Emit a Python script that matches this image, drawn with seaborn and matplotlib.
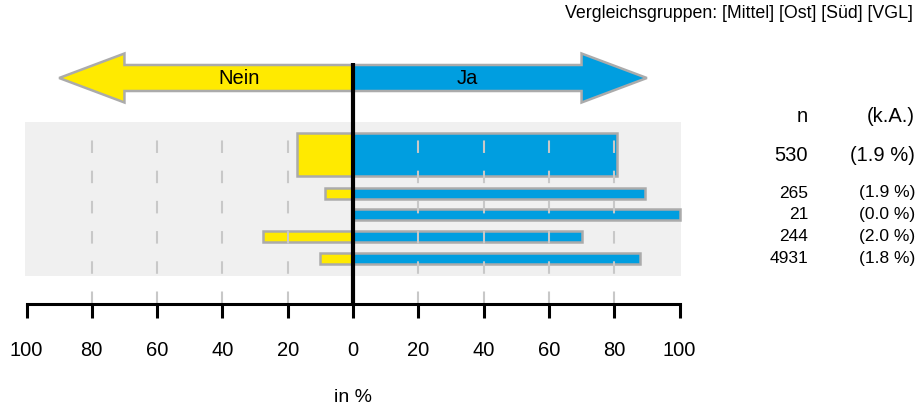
import matplotlib
matplotlib.use("Agg")
import matplotlib.pyplot as plt
from matplotlib.patches import Polygon, Rectangle
import numpy as np
import pandas as pd
import seaborn as sns

# values (percent)
groups = ["Gesamt", "Mittel", "Ost", "Süd", "VGL"]
nein = [17.0, 8.5, 0.0, 27.6, 10.2]
ja = [80.8, 89.5, 100.0, 70.0, 87.8]
n_count = [530, 265, 21, 244, 4931]
keine_angabe = [1.9, 1.9, 0.0, 2.0, 1.8]
tick_values = [-100, -80, -60, -40, -20, 0, 20, 40, 60, 80, 100]

YELLOW = "#FFEA00"
BLUE = "#009EE0"
EDGE = "#ABABAB"
GRID = "#C8C8C8"
BG = "#F0F0F0"

sns.set_theme(style="white")
plt.rcParams["font.family"] = ["Liberation Sans", "DejaVu Sans"]
plt.rcParams["text.color"] = "black"
plt.rcParams["xtick.color"] = "black"

W, H = 916, 407
X0, SCALE = 353.0, 3.265  # pixel of 0 %, pixels per percent


def px(x):
    """pixel column -> data x"""
    return (x - X0) / SCALE


fig = plt.figure(figsize=(W / 100, H / 100), dpi=100)
ax = fig.add_axes([0, 0, 1, 1])

# row layout (y in pixels from top)
main_y = 154.5
group_y = [193 + 21.7 * i for i in range(4)]

main = pd.DataFrame({"y": [main_y], "nein": [-nein[0]], "ja": [ja[0]]})
comp = pd.DataFrame({"y": group_y, "nein": [-v for v in nein[1:]], "ja": ja[1:]})

ax.add_patch(Rectangle((px(25), 121.5), px(681) - px(25), 154, color=BG, zorder=0, lw=0))

bar_kw = dict(orient="y", native_scale=True, errorbar=None, saturation=1,
              edgecolor=EDGE, linewidth=1.8, ax=ax)
sns.barplot(data=main, x="nein", y="y", color=YELLOW, width=43, **bar_kw)
sns.barplot(data=main, x="ja", y="y", color=BLUE, width=43, **bar_kw)
sns.barplot(data=comp, x="nein", y="y", color=YELLOW, width=11 / 21.7, **bar_kw)
sns.barplot(data=comp, x="ja", y="y", color=BLUE, width=11 / 21.7, **bar_kw)

# dashed grid
grid_x = [t for t in tick_values if t not in (-100, 0, 100)]
ax.vlines(grid_x, 304, 128, colors=GRID, lw=1.5, linestyles=(0, (6, 8.5)), zorder=2.5)

# direction arrows
cy, bh, hh = 78, 13, 24.5
left = Polygon([(0, cy - bh), (-70, cy - bh), (-70, cy - hh), (-90, cy), (-70, cy + hh),
                (-70, cy + bh), (0, cy + bh)], closed=True, fc=YELLOW, ec=EDGE, lw=1.8, zorder=2)
right = Polygon([(0, cy - bh), (70, cy - bh), (70, cy - hh), (90, cy), (70, cy + hh),
                 (70, cy + bh), (0, cy + bh)], closed=True, fc=BLUE, ec=EDGE, lw=1.8, zorder=2)
ax.add_patch(left)
ax.add_patch(right)
ax.text(-35, cy, "Nein", ha="center", va="center", fontsize=14.5, zorder=4)
ax.text(35, cy, "Ja", ha="center", va="center", fontsize=14.5, zorder=4)

# zero line
ax.vlines(0, 304, 63, colors="black", lw=3, zorder=5)

# right-hand table
xn, xk = px(808), px(915)
ax.text(xn, 116, "n", ha="right", va="center", fontsize=14.5)
ax.text(xk, 116, "(k.A.)", ha="right", va="center", fontsize=14.5)
ax.text(xn, main_y + 1, f"{n_count[0]}", ha="right", va="center", fontsize=14.5)
ax.text(xk, main_y + 1, f"({keine_angabe[0]:.1f} %)", ha="right", va="center", fontsize=14.5)
for yy, nn, ka in zip(group_y, n_count[1:], keine_angabe[1:]):
    ax.text(xn, yy, f"{nn}", ha="right", va="center", fontsize=12.5)
    ax.text(xk, yy, f"({ka:.1f} %)", ha="right", va="center", fontsize=12.5)

ax.text(px(913), 14, "Vergleichsgruppen: [Mittel] [Ost] [Süd] [VGL]",
        ha="right", va="center", fontsize=12.8)
ax.text(0, 398, "in %", ha="center", va="center", fontsize=14)

# axis
ax.set_xlim(px(0), px(W))
ax.set_ylim(H, 0)
ax.set_xlabel("")
ax.set_ylabel("")
ax.set_yticks([])
for s in ("top", "right", "left"):
    ax.spines[s].set_visible(False)
ax.spines["bottom"].set_position(("data", 304))
ax.spines["bottom"].set_bounds(-100, 100)
ax.spines["bottom"].set_linewidth(2.2)
ax.spines["bottom"].set_color("black")
ax.set_xticks(tick_values)
ax.set_xticklabels([str(abs(t)) for t in tick_values])
ax.tick_params(axis="x", direction="out", length=10, width=2.2, pad=17,
               labelsize=14.5, colors="black", bottom=True)
ax.patch.set_alpha(0)

fig.savefig("out.png", dpi=100)
